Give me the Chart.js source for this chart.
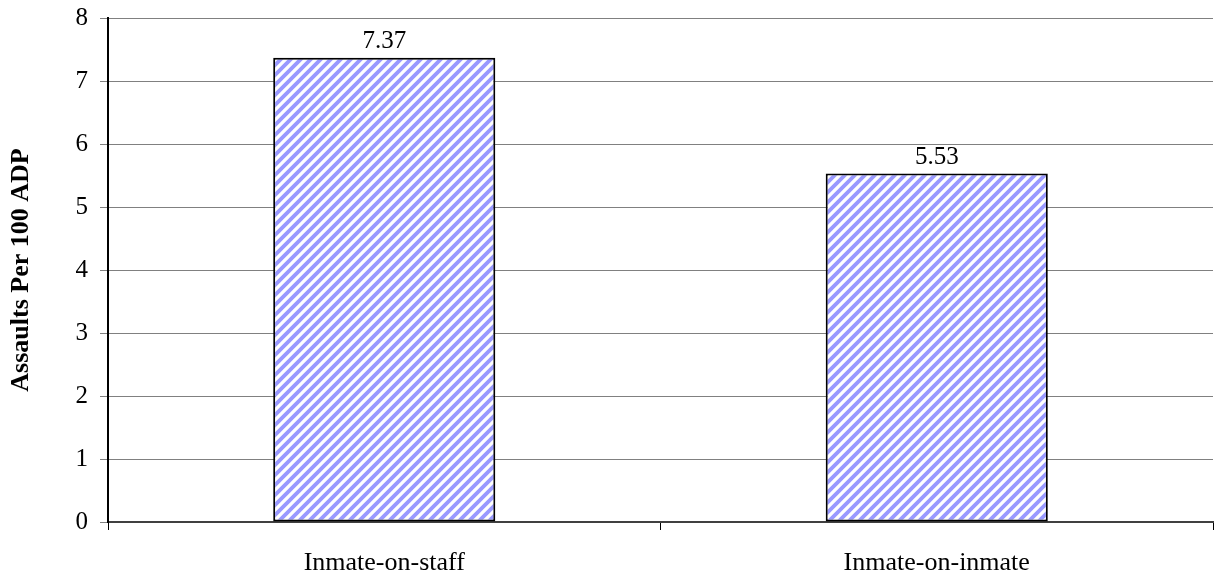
<!DOCTYPE html>
<html lang="en">
<head>
<meta charset="UTF-8">
<title>Assaults Per 100 ADP</title>
<script src="https://cdn.jsdelivr.net/npm/chart.js"></script>
<style>
  html, body { margin: 0; padding: 0; background: #fff; }
  #wrap { width: 1214px; height: 577px; }
</style>
</head>
<body>
<div id="wrap"><canvas id="assaults"></canvas></div>
<script>
  // chart data
  const categories = ['Inmate-on-staff', 'Inmate-on-inmate'];
  const rates = [7.37, 5.53];
  const yTicks = [0, 1, 2, 3, 4, 5, 6, 7, 8];

  const serif = '"Liberation Serif", "Times New Roman", serif';

  // diagonal hatch fill like the original
  function hatch() {
    const s = 10;
    const c = document.createElement('canvas');
    c.width = s; c.height = s;
    const g = c.getContext('2d');
    g.fillStyle = '#fff';
    g.fillRect(0, 0, s, s);
    g.strokeStyle = '#9999ff';
    g.lineWidth = 3.8;
    g.beginPath();
    g.moveTo(-2, s + 2); g.lineTo(s + 2, -2);
    g.moveTo(-2, 2); g.lineTo(2, -2);
    g.moveTo(s - 2, s + 2); g.lineTo(s + 2, s - 2);
    g.stroke();
    return g.createPattern(c, 'repeat');
  }

  // value labels above the bars
  const valueLabels = {
    id: 'valueLabels',
    afterDatasetsDraw(chart) {
      const ctx = chart.ctx;
      ctx.save();
      ctx.font = '25px ' + serif;
      ctx.fillStyle = '#000';
      ctx.textAlign = 'center';
      ctx.textBaseline = 'bottom';
      chart.getDatasetMeta(0).data.forEach((bar, i) => {
        ctx.fillText(rates[i].toFixed(2), bar.x, bar.y - 4);
      });
      ctx.restore();
    }
  };

  new Chart(document.getElementById('assaults'), {
    type: 'bar',
    data: {
      labels: categories,
      datasets: [{
        data: rates,
        backgroundColor: hatch(),
        borderColor: '#000',
        borderWidth: 2,
        borderSkipped: false,
        barPercentage: 0.402,
        categoryPercentage: 1.0
      }]
    },
    options: {
      responsive: true,
      maintainAspectRatio: false,
      animation: false,
      layout: { padding: { top: 18, right: 1, left: 0, bottom: 0 } },
      plugins: { legend: { display: false }, tooltip: { enabled: false } },
      scales: {
        x: {
          offset: true,
          grid: { offset: true, drawOnChartArea: false, color: '#000', tickLength: 8 },
          border: { color: '#404040', width: 2 },
          ticks: { color: '#000', font: { family: serif, size: 26 }, padding: 18 },
          afterFit(scale) {
            scale.height = 55;
            scale.paddingLeft = 0;
            scale.paddingRight = 0;
          }
        },
        y: {
          min: 0,
          max: 8,
          afterBuildTicks(scale) { scale.ticks = yTicks.map(v => ({ value: v })); },
          grid: { color: '#808080', tickLength: 8 },
          border: { color: '#000', width: 2 },
          ticks: { color: '#000', font: { family: serif, size: 25 }, padding: 12 },
          title: {
            display: true,
            text: 'Assaults Per 100 ADP',
            color: '#000',
            font: { family: serif, size: 26, weight: 'bold' },
            padding: { top: 6, bottom: 10 }
          },
          afterFit(scale) {
            scale.width = 108;
            scale.paddingTop = 0;
            scale.paddingBottom = 0;
          }
        }
      }
    },
    plugins: [valueLabels]
  });
</script>
</body>
</html>
